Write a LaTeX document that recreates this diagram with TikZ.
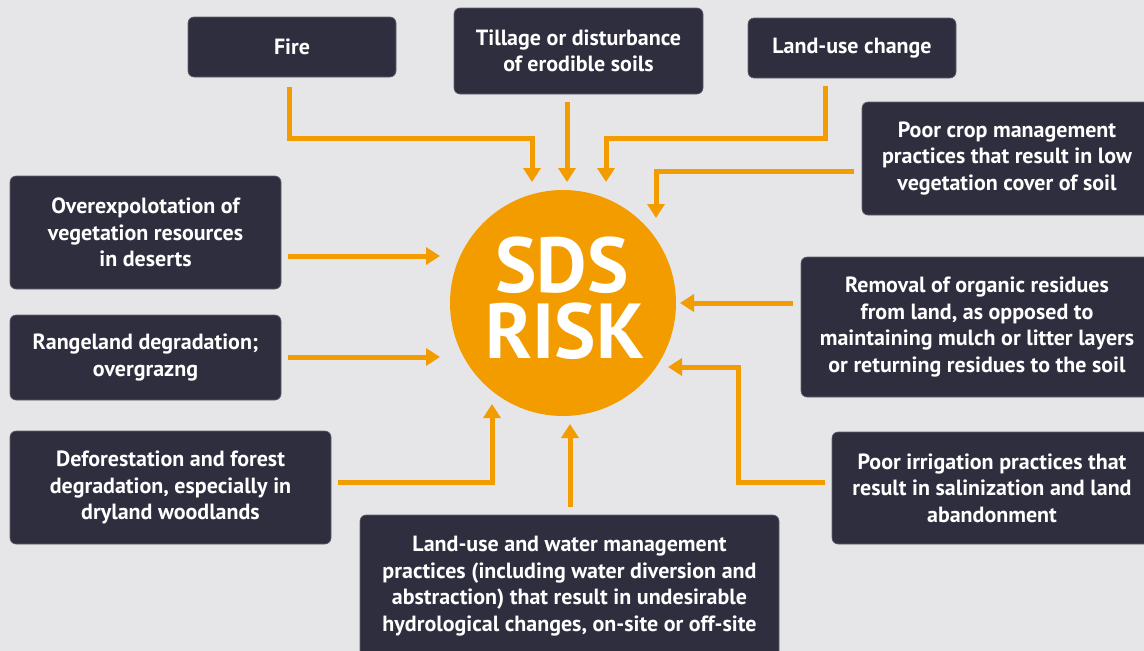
\documentclass[tikz,border=0pt]{standalone}
\usepackage{fontspec}
\setmainfont{PT Sans}
\usetikzlibrary{arrows.meta}
\definecolor{bgcol}{RGB}{230,230,232}
\definecolor{boxcol}{RGB}{47,46,63}
\definecolor{sdsorange}{RGB}{243,156,0}
\tikzset{
    cause/.style={rectangle, rounded corners=6pt, fill=boxcol, draw=boxcol!75!white, line width=0.6pt, text=white, font=\bfseries\fontsize{22}{26.5}\selectfont, align=center, inner sep=0pt},
    risk/.style={circle, fill=sdsorange, minimum size=226pt, inner sep=0pt},
    riskword/.style={text=white, font=\bfseries\fontsize{78}{66}\selectfont, anchor=base, inner sep=0pt},
    feed/.style={-{Triangle[width=17pt,length=14pt]}, line width=5pt, draw=sdsorange, line join=miter},
}

\begin{document}
\begin{tikzpicture}[x=1pt, y=-1pt]
    \useasboundingbox (0,0) rectangle (1144,651);
    \fill[bgcol] (0,0) rectangle (1144,651);

    \node[risk] (risk) at (563,303) {};
    \node[riskword] (sds) at (562,292) {SDS};
    \node[riskword] (riskline) at (565,358) {RISK};

    \node[cause, minimum width=208pt, minimum height=60pt] (fire) at (292,47) {Fire};
    \node[cause, minimum width=249pt, minimum height=86pt] (tillage) at (578.5,51) {Tillage or disturbance\\of erodible soils};
    \node[cause, minimum width=208pt, minimum height=60pt] (landuse) at (852,48) {Land-use change};
    \node[cause, minimum width=290pt, minimum height=113pt] (crop) at (1007,158.5) {Poor crop management\\practices that result in low\\vegetation cover of soil};
    \node[cause, minimum width=271pt, minimum height=113pt] (overuse) at (145.5,232.5) {Overexpolotation of\\vegetation resources\\in deserts};
    \node[cause, minimum width=271pt, minimum height=85pt] (rangeland) at (145.5,357.5) {Rangeland degradation;\\overgrazng};
    \node[cause, minimum width=352pt, minimum height=140pt] (residues) at (977,327) {Removal of organic residues\\from land, as opposed to\\maintaining mulch or litter layers\\or returning residues to the soil};
    \node[cause, minimum width=320pt, minimum height=112pt] (irrigation) at (992,488) {Poor irrigation practices that\\result in salinization and land\\abandonment};
    \node[cause, minimum width=321pt, minimum height=113pt] (forest) at (170.5,487.5) {Deforestation and forest\\degradation, especially in\\dryland woodlands};
    \node[cause, minimum width=419pt, minimum height=142pt] (water) at (569.5,586) {Land-use and water management\\practices (including water diversion and\\abstraction) that result in undesirable\\hydrological changes, on-site or off-site};

    % arrow ends round the circle
    \coordinate (fire tip) at (532,182);
    \coordinate (tillage tip) at (567,182);
    \coordinate (landuse tip) at (606,182);
    \coordinate (crop tip) at (656,218);
    \coordinate (overuse tip) at (440,256);
    \coordinate (rangeland tip) at (440,357);
    \coordinate (residues tip) at (680,303);
    \coordinate (irrigation tip) at (668,367);
    \coordinate (forest tip) at (492,404);
    \coordinate (water tip) at (570,424);

    \draw[feed, shorten <=10pt] ([xshift=-3pt]fire.south) |- ([yshift=44pt]fire tip) -- (fire tip);
    \draw[feed, shorten <=8pt] (tillage tip |- tillage.south) -- (tillage tip);
    \draw[feed, shorten <=8pt] ([xshift=-27pt]landuse.south) |- ([yshift=44pt]landuse tip) -- (landuse tip);
    \draw[feed, shorten <=8pt] ([yshift=-12.5pt]crop.west) -| (crop tip);
    \draw[feed, shorten <=7pt] (overuse tip -| overuse.east) -- (overuse tip);
    \draw[feed, shorten <=7pt] (rangeland tip -| rangeland.east) -- (rangeland tip);
    \draw[feed, shorten <=8pt] (residues tip -| residues.west) -- (residues tip);
    \draw[feed, shorten <=7pt] ([yshift=6pt]irrigation.west) -| ([xshift=70pt]irrigation tip) -- (irrigation tip);
    \draw[feed, shorten <=7pt] ([yshift=5.5pt]forest.east) -| (forest tip);
    \draw[feed, shorten <=8pt] (water tip |- water.north) -- (water tip);
\end{tikzpicture}
\end{document}
